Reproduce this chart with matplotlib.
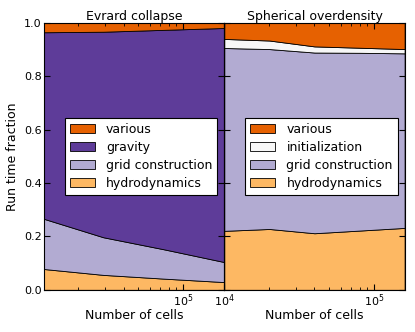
import matplotlib
matplotlib.use("Agg")
import matplotlib.pyplot as plt

# Evrard collapse
evrard_cells = [1.18e4, 2.93e4, 7.4e4, 1.875e5]
evrard_hydro = [0.078, 0.056, 0.042, 0.029]
evrard_grid = [0.188, 0.141, 0.110, 0.075]
evrard_gravity = [0.699, 0.770, 0.822, 0.877]
evrard_various = [0.035, 0.033, 0.026, 0.019]

# Spherical overdensity
sod_cells = [1e4, 2e4, 4e4, 8e4, 1.6e5]
sod_hydro = [0.221, 0.228, 0.212, 0.222, 0.232]
sod_grid = [0.685, 0.674, 0.677, 0.666, 0.654]
sod_init = [0.034, 0.032, 0.023, 0.019, 0.016]
sod_various = [0.060, 0.066, 0.088, 0.093, 0.098]

c_various = "#e66101"
c_hydro = "#fdb863"
c_init = "#f7f7f7"
c_grid = "#b2abd2"
c_gravity = "#5e3c99"

plt.rcParams["font.family"] = "DejaVu Sans"
plt.rcParams["font.size"] = 8
plt.rcParams["xtick.direction"] = "in"
plt.rcParams["ytick.direction"] = "in"
plt.rcParams["xtick.top"] = True
plt.rcParams["ytick.right"] = True
plt.rcParams["xtick.major.size"] = 4
plt.rcParams["ytick.major.size"] = 4
plt.rcParams["xtick.minor.size"] = 2
plt.rcParams["ytick.minor.size"] = 2
plt.rcParams["xtick.major.pad"] = 2
plt.rcParams["ytick.major.pad"] = 1.5

fig, (ax1, ax2) = plt.subplots(1, 2, figsize=(4.15, 3.32), dpi=100, sharey=True)
fig.subplots_adjust(left=0.106, right=0.975, bottom=0.127, top=0.931, wspace=0)

ax1.stackplot(evrard_cells, evrard_hydro, evrard_grid, evrard_gravity, evrard_various,
              colors=[c_hydro, c_grid, c_gravity, c_various],
              labels=["hydrodynamics", "grid construction", "gravity", "various"],
              edgecolor="black", linewidth=0.6)
ax2.stackplot(sod_cells, sod_hydro, sod_grid, sod_init, sod_various,
              colors=[c_hydro, c_grid, c_init, c_various],
              labels=["hydrodynamics", "grid construction", "initialization", "various"],
              edgecolor="black", linewidth=0.6)

for ax, cells, title in [(ax1, evrard_cells, "Evrard collapse"),
                         (ax2, sod_cells, "Spherical overdensity")]:
    ax.set_xscale("log")
    ax.set_xlim(cells[0], cells[-1])
    ax.set_ylim(0, 1)
    ax.set_title(title, fontsize=9, pad=2)
    ax.set_xlabel("Number of cells", fontsize=9, labelpad=0)
    h, l = ax.get_legend_handles_labels()
    leg = ax.legend(h[::-1], l[::-1], loc="center right", fontsize=9, fancybox=False,
                    framealpha=1, edgecolor="black", borderaxespad=0.55,
                    handlelength=2.0, handletextpad=0.9, labelspacing=0.4)
    leg.get_frame().set_linewidth(0.8)

ax1.set_ylabel("Run time fraction", fontsize=9, labelpad=4)
ax1.set_yticks([0, 0.2, 0.4, 0.6, 0.8, 1.0])
ax1.set_yticklabels(["0.0", "0.2", "0.4", "0.6", "0.8", "1.0"])

fig.savefig("out.png", dpi=100)
